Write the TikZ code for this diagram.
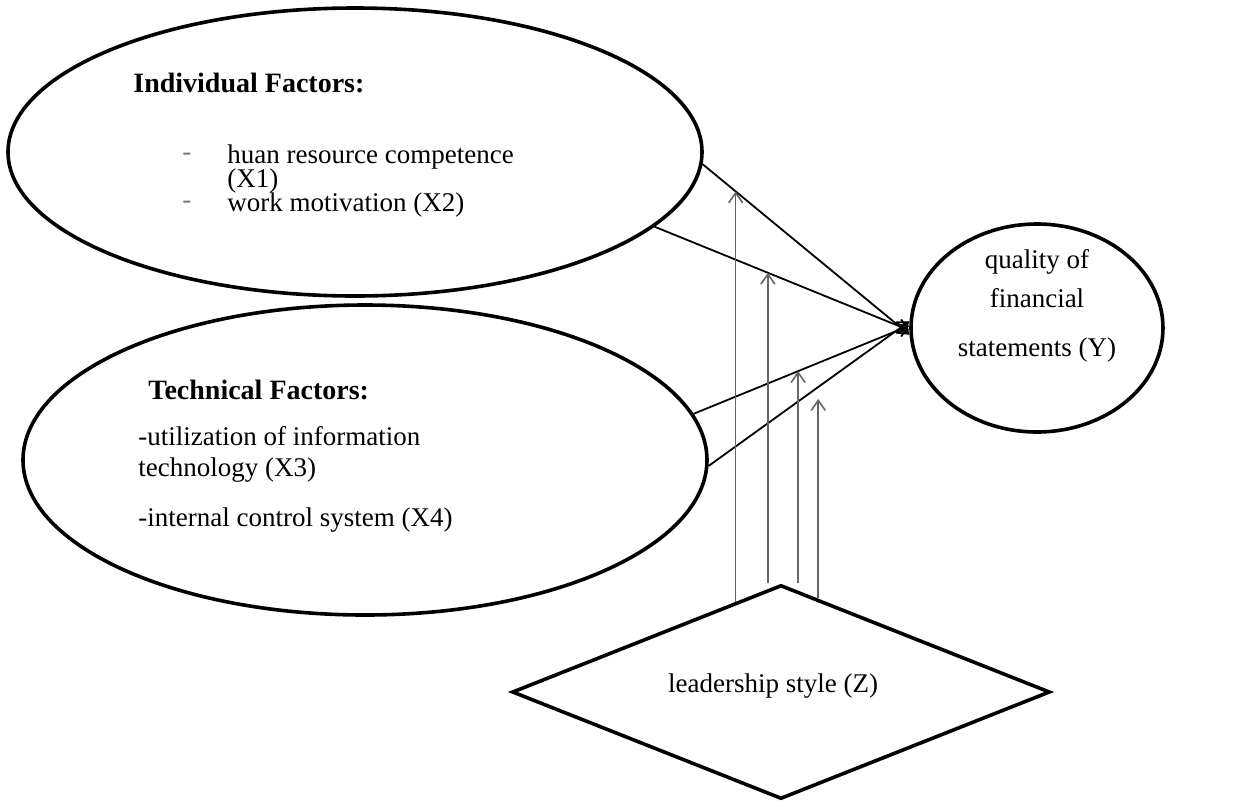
\documentclass[tikz,border=0pt]{standalone}
\usepackage{fontspec}
\setmainfont{Liberation Serif}
\usetikzlibrary{shapes.geometric,arrows.meta,calc}
\begin{document}
\begin{tikzpicture}[x=0.5pt,y=-0.5pt,
  blob/.style={draw, ellipse, line width=1.8pt, inner sep=0pt},
  rhomb/.style={draw, diamond, line width=1.8pt, inner sep=0pt},
  link/.style={draw, line width=0.9pt, -{Straight Barb[length=5pt,width=7pt]}},
  modarrow/.style={draw=black!60, line width=0.8pt, -{Straight Barb[length=5pt,width=7pt]}},
  txt/.style={font=\fontsize{13.5}{15}\selectfont, inner sep=0pt},
  txtb/.style={font=\fontsize{14}{16}\selectfont\bfseries, inner sep=0pt},
  dashmark/.style={font=\fontsize{13.5}{15}\selectfont, inner sep=0pt, text=black!55},
]
\useasboundingbox (0,0) rectangle (1250,800);

% shapes
\node[blob, minimum width=347pt, minimum height=144pt] (ind) at (355,152) {};
\node[blob, minimum width=342pt, minimum height=155pt] (tec) at (365,460) {};
\node[blob, minimum width=126pt, minimum height=104pt] (Y) at (1037,328) {};
\node[rhomb, minimum width=269pt, minimum height=107pt] (Z) at (781,692) {};

% texts
\node[txtb, anchor=west] (indT) at (133,83) {Individual Factors:};
\node[dashmark, anchor=west] (d1) at (182,157) {-};
\node[txt, anchor=west] (x1a) at (227,157) {huan resource competence};
\node[txt, anchor=west] (x1b) at (227,181) {(X1)};
\node[dashmark, anchor=west] (d2) at (182,205) {-};
\node[txt, anchor=west] (x2) at (227,205) {work motivation (X2)};

\node[txtb, anchor=west] (tecT) at (148,390) {Technical Factors:};
\node[txt, anchor=west] (x3a) at (138,436) {-utilization of information};
\node[txt, anchor=west] (x3b) at (138,470) {technology (X3)};
\node[txt, anchor=west] (x4) at (138,520) {-internal control system (X4)};

\node[txt] (y1) at (1037,262) {quality of};
\node[txt] (y2) at (1037,298) {financial};
\node[txt] (y3) at (1037,350) {statements (Y)};

\node[txt] (zT) at (773,686) {leadership style (Z)};

% connectors to Y
\draw[link] (ind.-2) -- coordinate[pos=0.16] (m1) (Y.183);
\draw[link] (ind.-14) -- coordinate[pos=0.445] (m2) (Y.181);
\draw[link] (tec.8.6) -- coordinate[pos=0.485] (m3) (Y.179);
\draw[link] (tec.-1) -- coordinate[pos=0.546] (m4) (Y.177);

% moderating arrows from Z
\coordinate (s1) at ($(Z.north)!0.171!(Z.west)$);
\coordinate (s4) at ($(Z.north)!0.134!(Z.east)$);
\coordinate (t4) at ($(m4)+(0,12)$);
\draw[modarrow] (m1 |- s1) -- (m1);
\draw[modarrow] (m2 |- Z.north) -- (m2);
\draw[modarrow] (m3 |- Z.north) -- (m3);
\draw[modarrow] (t4 |- s4) -- (t4);
\end{tikzpicture}
\end{document}
